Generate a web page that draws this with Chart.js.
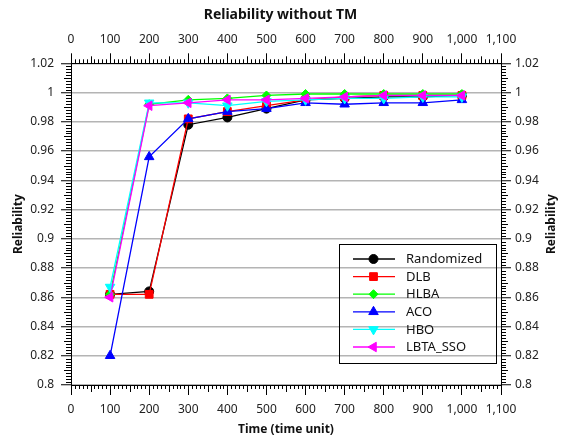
<!DOCTYPE html>
<html><head><meta charset="utf-8">
<script src="https://cdn.jsdelivr.net/npm/chart.js@4.4.1/dist/chart.umd.min.js"></script>
<style>html,body{margin:0;padding:0;background:#fff}#wrap{width:561px;height:439px}</style>
</head><body><div id="wrap"><canvas id="c" width="561" height="439"></canvas></div>
<script>
// ---- data ----
const times = [100, 200, 300, 400, 500, 600, 700, 800, 900, 1000];
const randomized = [0.862, 0.864, 0.978, 0.983, 0.989, 0.995, 0.996, 0.997, 0.997, 0.998];
const dlb        = [0.862, 0.862, 0.982, 0.987, 0.991, 0.995, 0.997, 0.998, 0.998, 0.998];
const hlba       = [0.862, 0.992, 0.995, 0.996, 0.998, 0.999, 0.999, 0.999, 0.999, 0.999];
const aco        = [0.820, 0.956, 0.982, 0.987, 0.989, 0.993, 0.992, 0.993, 0.993, 0.995];
const hbo        = [0.867, 0.993, 0.993, 0.991, 0.994, 0.995, 0.996, 0.996, 0.997, 0.997];
const lbtaSso    = [0.860, 0.991, 0.993, 0.995, 0.995, 0.996, 0.997, 0.998, 0.998, 0.998];
const seriesNames = ['Randomized', 'DLB', 'HLBA', 'ACO', 'HBO', 'LBTA_SSO'];
const xTickMin = 0, xTickMax = 1100, xStep = 100;
const yTickMin = 0.8, yTickMax = 1.02, yStep = 0.02;

const styles = [
  {color:'#000000', pointStyle:'circle',   radius:4.5, rotation:0},
  {color:'#ff0000', pointStyle:'rect',     radius:5.5, rotation:0},
  {color:'#00ff00', pointStyle:'rectRot',  radius:4.5, rotation:0},
  {color:'#0000ff', pointStyle:'triangle', radius:5.5, rotation:0},
  {color:'#00ffff', pointStyle:'triangle', radius:5.5, rotation:180},
  {color:'#ff00ff', pointStyle:'triangle', radius:5.5, rotation:270}
];
const allSeries = [randomized, dlb, hlba, aco, hbo, lbtaSso];

const datasets = allSeries.map((arr, i) => ({
  label: seriesNames[i],
  data: times.map((t, j) => ({x: t, y: arr[j]})),
  borderColor: styles[i].color,
  backgroundColor: styles[i].color,
  pointBackgroundColor: styles[i].color,
  pointBorderColor: styles[i].color,
  pointStyle: styles[i].pointStyle,
  pointRadius: styles[i].radius,
  pointRotation: styles[i].rotation,
  pointBorderWidth: 1,
  borderWidth: 1.3,
  tension: 0,
  order: 10 - i
}));

const FONT = "'Noto Sans', 'Open Sans', sans-serif";
const tickFont = {family: FONT, size: 12};
const titleFont = {family: FONT, size: 12, weight: 'bold'};

function fmtY(v){ return String(Number(v.toFixed(2))); }
function fmtX(v){ return Number(v).toLocaleString('en-US'); }

const minorTicks = {
  id: 'minorTicks',
  afterDraw(chart){
    const ctx = chart.ctx, a = chart.chartArea, sx = chart.scales.x, sy = chart.scales.y;
    ctx.save();
    ctx.strokeStyle = '#000'; ctx.lineWidth = 1;
    ctx.beginPath();
    for (let v = xTickMin; v <= xTickMax; v += 10) {
      if (v % 100 === 0) continue;
      const len = (v % 50 === 0) ? 7 : 4;
      const px = Math.round(sx.getPixelForValue(v)) + 0.5;
      ctx.moveTo(px, a.bottom); ctx.lineTo(px, a.bottom + len);
      ctx.moveTo(px, a.top); ctx.lineTo(px, a.top - len);
    }
    for (let i = 0; i <= 110; i++) {
      if (i % 10 === 0) continue;
      const v = yTickMin + i * 0.002;
      const len = (i % 5 === 0) ? 7 : 5;
      const py = Math.round(sy.getPixelForValue(v)) + 0.5;
      ctx.moveTo(a.left, py); ctx.lineTo(a.left - len, py);
      ctx.moveTo(a.right, py); ctx.lineTo(a.right + len, py);
    }
    ctx.stroke();
    // right axis title, reading bottom-to-top like the left one
    ctx.fillStyle = '#111';
    ctx.font = "bold 12px " + FONT;
    ctx.textAlign = 'center'; ctx.textBaseline = 'middle';
    ctx.translate(chart.width - 9, (a.top + a.bottom) / 2);
    ctx.rotate(-Math.PI / 2);
    ctx.fillText('Reliability', 0, 0);
    ctx.restore();
  }
};

function drawMarker(ctx, st, x, y){
  if (Chart.helpers && Chart.helpers.drawPoint) {
    ctx.fillStyle = st.color; ctx.strokeStyle = st.color; ctx.lineWidth = 1;
    Chart.helpers.drawPoint(ctx, {pointStyle: st.pointStyle, radius: st.radius, rotation: st.rotation, borderWidth: 1}, x, y);
  }
}

const boxLegend = {
  id: 'boxLegend',
  afterDraw(chart){
    const ctx = chart.ctx, a = chart.chartArea;
    const w = 157, h = 119;
    const x0 = a.right - 5 - w, y0 = a.bottom - 22 - h;
    ctx.save();
    ctx.strokeStyle = '#000'; ctx.lineWidth = 1;
    ctx.strokeRect(Math.round(x0) + 0.5, Math.round(y0) + 0.5, w, h);
    ctx.font = "13px " + FONT;
    ctx.textBaseline = 'middle';
    seriesNames.forEach((name, i) => {
      const y = y0 + 15 + i * 17.6;
      const st = styles[i];
      ctx.strokeStyle = st.color; ctx.lineWidth = 1.3;
      ctx.beginPath(); ctx.moveTo(x0 + 14, y); ctx.lineTo(x0 + 56, y); ctx.stroke();
      drawMarker(ctx, st, x0 + 34.5, y);
      ctx.fillStyle = '#111';
      ctx.fillText(name, x0 + 67, y + 0.5);
    });
    ctx.restore();
  }
};

const xBase = (pos, h) => ({
  type: 'linear', position: pos, min: xTickMin, max: xTickMax,
  ticks: {stepSize: xStep, font: tickFont, color: '#222', padding: 7, callback: fmtX, maxRotation: 0, autoSkip: false},
  grid: {drawOnChartArea: false, drawTicks: true, tickLength: 10, tickColor: '#000', tickWidth: 1},
  border: {display: true, color: '#000', width: 1},
  afterFit: s => { s.height = h; }
});
const yBase = (pos, w) => ({
  type: 'linear', position: pos, min: yTickMin, max: yTickMax,
  ticks: {stepSize: yStep, font: tickFont, color: '#222', padding: pos === 'left' ? 7 : 4, callback: fmtY, autoSkip: false},
  grid: {drawOnChartArea: pos === 'left', color: '#b4b4b4', lineWidth: 1.5, drawTicks: true, tickLength: 10, tickColor: '#000', tickWidth: 1},
  border: {display: true, color: '#000', width: 1},
  title: {display: pos === 'left', text: 'Reliability', font: titleFont, color: '#111', padding: {top: 11, bottom: 0}},
  afterFit: s => { s.width = w; }
});

const scales = {
  x: Object.assign(xBase('bottom', 54), {title: {display: true, text: 'Time (time unit)', font: titleFont, color: '#111', padding: {top: 0, bottom: 2}}}),
  x2: xBase('top', 39.5),
  y: yBase('left', 71),
  y2: yBase('right', 60)
};

new Chart(document.getElementById('c'), {
  type: 'line',
  data: {datasets},
  options: {
    responsive: false, animation: false, devicePixelRatio: 1,
    layout: {padding: 0},
    scales,
    plugins: {
      legend: {display: false},
      tooltip: {enabled: false},
      title: {display: true, text: 'Reliability without TM', color: '#111',
              font: {family: FONT, size: 14, weight: 'bold'}, padding: {top: 7, bottom: 0}}
    }
  },
  plugins: [minorTicks, boxLegend]
});
</script>
</body></html>
